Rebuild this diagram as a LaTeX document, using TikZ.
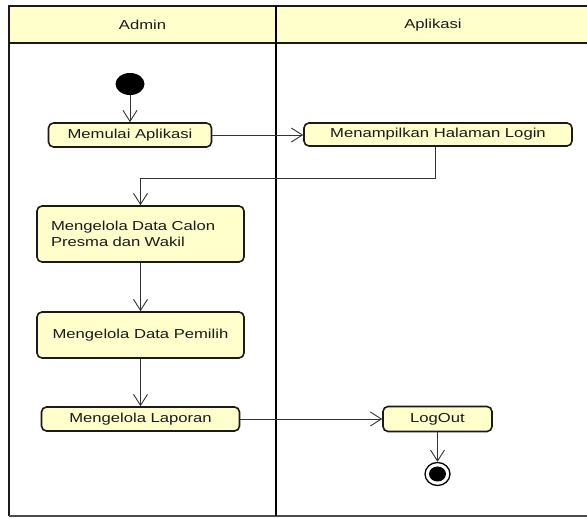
\documentclass[tikz,border=0pt]{standalone}
\usepackage{fontspec}
\setmainfont{Liberation Sans}[FakeStretch=1.28]
\usetikzlibrary{arrows.meta,shapes.geometric}
\definecolor{umlyellow}{HTML}{FFFFCC}
\definecolor{inkdark}{HTML}{1A1A1A}

\begin{document}
\begin{tikzpicture}[x=1pt,y=-1pt,
  every node/.style={font=\fontsize{13}{16}\selectfont, text=inkdark},
  act/.style={draw=inkdark, line width=1.6pt, rounded corners=5pt,
    fill=umlyellow, inner sep=0pt, anchor=center},
  lanehead/.style={anchor=center},
  flow/.style={draw=black!80, line width=0.9pt,
    -{Straight Barb[length=11pt,width=14pt,line width=0.9pt]}},
  frameline/.style={draw=inkdark, line width=2pt}]

\useasboundingbox (0,0) rectangle (587,518);

% swimlane frame and header band
\fill[umlyellow] (9,6) rectangle (595,43);
\draw[frameline] (595,6) -- (9,6) -- (9,516);
\draw[draw=black!70, line width=2pt] (9,516) -- (595,516);
\draw[frameline] (9,43) -- (595,43);
\draw[draw=black, line width=2.6pt] (276,6) -- (276,516);

\node[lanehead] (hAdmin) at (142.5,25) {Admin};
\node[lanehead] (hApp) at (433,25) {Aplikasi};

% initial and final nodes
\node[ellipse, fill=black, minimum width=29pt, minimum height=22pt, inner sep=0pt]
  (start) at (130,84) {};
\node[ellipse, draw=black, line width=1.3pt, fill=white, minimum width=25pt,
  minimum height=23pt, inner sep=0pt,
  path picture={\fill[black] (path picture bounding box.center) ellipse (8.5pt and 7.5pt);}]
  (finish) at (437.5,474) {};

% actions
\node[act, minimum width=163pt, minimum height=24pt] (memulai) at (130,135) {Memulai Aplikasi};
\node[act, minimum width=268pt, minimum height=23pt] (login) at (438,134.5) {Menampilkan Halaman Login};
\node[act, minimum width=207pt, minimum height=56pt, text width=179pt, align=left,
  inner xsep=14pt] (calon) at (140.5,234) {Mengelola Data Calon\\Presma dan Wakil};
\node[act, minimum width=207pt, minimum height=46pt] (pemilih) at (140.5,335) {Mengelola Data Pemilih};
\node[act, minimum width=198pt, minimum height=24pt] (laporan) at (140.5,419) {Mengelola Laporan};
\node[act, minimum width=109pt, minimum height=25pt] (logout) at (437.5,419) {LogOut};

% control flows
\coordinate (bend) at (435,178);
\draw[flow] (start.south) -- (start.south |- memulai.north);
\draw[flow] (memulai.east) -- (memulai.east -| login.west);
\draw[flow] (bend |- login.south) -- (bend) -- (bend -| calon.north) -- (calon.north);
\draw[flow] (calon.south) -- (pemilih.north);
\draw[flow] (pemilih.south) -- (laporan.north);
\draw[flow] (laporan.east) -- (laporan.east -| logout.west);
\draw[flow] (logout.south) -- (finish.north);

\end{tikzpicture}
\end{document}
